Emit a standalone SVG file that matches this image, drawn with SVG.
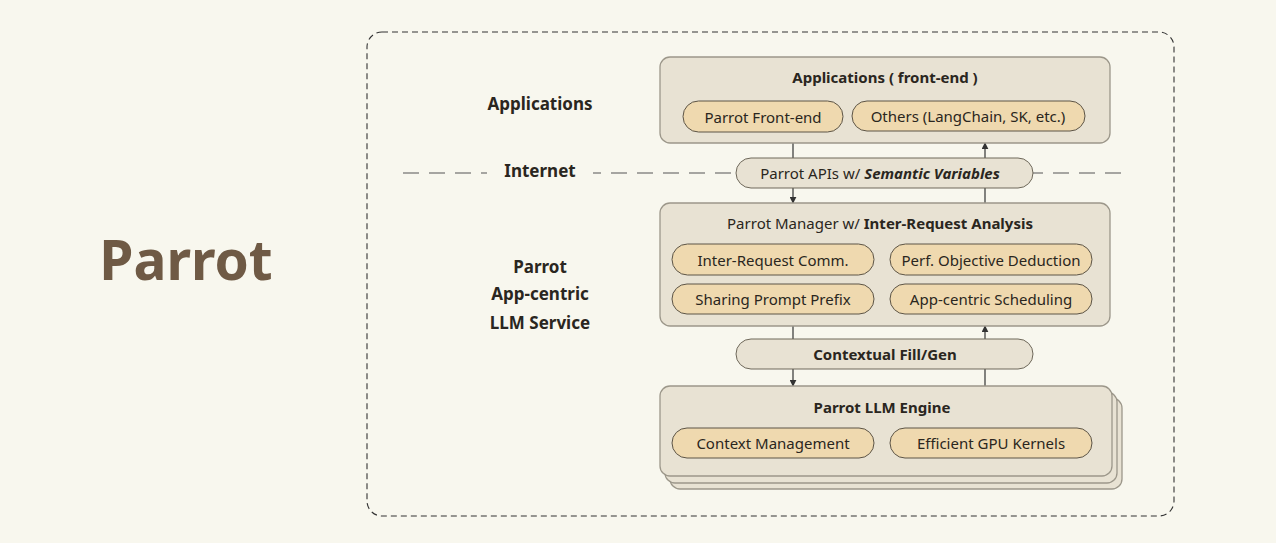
<svg xmlns="http://www.w3.org/2000/svg" width="1276" height="543" viewBox="0 0 1276 543">
<defs>
<style>
.t{font-family:"Noto Sans","Open Sans",sans-serif;fill:#2a2620;text-anchor:middle;dominant-baseline:central}
.b{font-weight:bold}
.box{fill:#e8e2d3;stroke:#9c978a;stroke-width:1.3}
.pill{fill:#efd9af;stroke:#5c5446;stroke-width:1}
.mid{fill:#e8e2d3;stroke:#6e685a;stroke-width:1}
.c{stroke:#333;stroke-width:1.2;fill:none}
</style>
<marker id="ah" viewBox="0 0 10 10" refX="9" refY="5" markerWidth="7" markerHeight="7" orient="auto-start-reverse" markerUnits="userSpaceOnUse"><path d="M0,0 L10,5 L0,10 z" fill="#333"/></marker>
</defs>
<rect width="1276" height="543" fill="#f8f7ee"/>
<rect x="367" y="32" width="807" height="484" rx="15" fill="none" stroke="#333" stroke-width="1.1" stroke-dasharray="6,4"/>
<line x1="403" y1="173" x2="1130" y2="173" stroke="#555" stroke-width="1.2" stroke-dasharray="16,10"/>
<text class="t b" x="186" y="258" style="font-size:55px;fill:#6f5a45">Parrot</text>
<g id="left-labels">
<text class="t b" x="540" y="103" style="font-size:17px">Applications</text>
<rect x="487" y="160" width="106" height="24" fill="#f8f7ee"/>
<text class="t b" x="540" y="170" style="font-size:17px">Internet</text>
<text class="t b" x="540" y="266" style="font-size:17px">Parrot</text>
<text class="t b" x="540" y="293" style="font-size:17px">App-centric</text>
<text class="t b" x="540" y="322" style="font-size:17px">LLM Service</text>
</g>
<g id="connectors">
<line class="c" x1="793" y1="143" x2="793" y2="158"/>
<line class="c" x1="793" y1="188" x2="793" y2="203" marker-end="url(#ah)"/>
<line class="c" x1="985" y1="203" x2="985" y2="188"/>
<line class="c" x1="985" y1="158" x2="985" y2="143" marker-end="url(#ah)"/>
<line class="c" x1="793" y1="326" x2="793" y2="339"/>
<line class="c" x1="793" y1="369" x2="793" y2="386" marker-end="url(#ah)"/>
<line class="c" x1="985" y1="386" x2="985" y2="369"/>
<line class="c" x1="985" y1="339" x2="985" y2="326" marker-end="url(#ah)"/>
</g>
<g id="applications">
<rect class="box" x="660" y="57" width="450" height="86" rx="10"/>
<text class="t b" x="885" y="77" style="font-size:15px">Applications ( front-end )</text>
<rect class="pill" x="683" y="101" width="160" height="31" rx="15.5"/>
<text class="t" x="763" y="116.5" style="font-size:15px">Parrot Front-end</text>
<rect class="pill" x="852" y="101" width="233" height="30" rx="15"/>
<text class="t" x="968" y="116" style="font-size:15px">Others (LangChain, SK, etc.)</text>
</g>
<g id="apis">
<rect class="mid" x="736" y="158" width="297" height="30" rx="15"/>
<text class="t" x="880" y="173" style="font-size:15px">Parrot APIs w/ <tspan font-weight="bold" font-style="italic">Semantic Variables</tspan></text>
</g>
<g id="manager">
<rect class="box" x="660" y="203" width="450" height="123" rx="10"/>
<text class="t" x="880" y="223" style="font-size:15px">Parrot Manager w/  <tspan font-weight="bold">Inter-Request Analysis</tspan></text>
<rect class="pill" x="672" y="244" width="202" height="31" rx="15.5"/>
<text class="t" x="773" y="259.5" style="font-size:15px">Inter-Request Comm.</text>
<rect class="pill" x="890" y="244" width="202" height="31" rx="15.5"/>
<text class="t" x="991" y="259.5" style="font-size:15px">Perf. Objective Deduction</text>
<rect class="pill" x="672" y="284" width="202" height="30" rx="15"/>
<text class="t" x="773" y="299" style="font-size:15px">Sharing Prompt Prefix</text>
<rect class="pill" x="890" y="284" width="202" height="30" rx="15"/>
<text class="t" x="991" y="299" style="font-size:15px">App-centric Scheduling</text>
</g>
<g id="fillgen">
<rect class="mid" x="736" y="339" width="297" height="30" rx="15"/>
<text class="t b" x="885" y="354" style="font-size:15px">Contextual Fill/Gen</text>
</g>
<g id="engine">
<rect class="box" x="670" y="398" width="452" height="91" rx="10"/>
<rect class="box" x="665" y="392" width="452" height="91" rx="10"/>
<rect class="box" x="660" y="386" width="452" height="90" rx="10"/>
<text class="t b" x="882" y="407" style="font-size:15px">Parrot LLM Engine</text>
<rect class="pill" x="672" y="428" width="202" height="30" rx="15"/>
<text class="t" x="773" y="443" style="font-size:15px">Context Management</text>
<rect class="pill" x="890" y="428" width="202" height="30" rx="15"/>
<text class="t" x="991" y="443" style="font-size:15px">Efficient GPU Kernels</text>
</g>
</svg>
